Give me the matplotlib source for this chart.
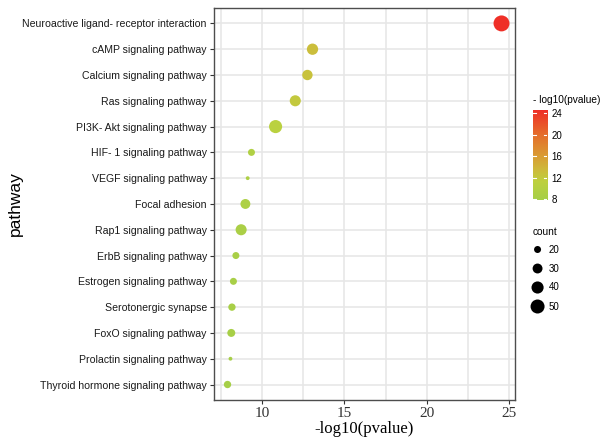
import numpy as np
import matplotlib
matplotlib.use('Agg')
import matplotlib.pyplot as plt
from matplotlib.colors import LinearSegmentedColormap, Normalize
from matplotlib.font_manager import FontProperties

# Data
pathways = [
    "Neuroactive ligand- receptor interaction",
    "cAMP signaling pathway",
    "Calcium signaling pathway",
    "Ras signaling pathway",
    "PI3K- Akt signaling pathway",
    "HIF- 1 signaling pathway",
    "VEGF signaling pathway",
    "Focal adhesion",
    "Rap1 signaling pathway",
    "ErbB signaling pathway",
    "Estrogen signaling pathway",
    "Serotonergic synapse",
    "FoxO signaling pathway",
    "Prolactin signaling pathway",
    "Thyroid hormone signaling pathway",
]
neg_log_p = [24.57, 13.05, 12.74, 12.0, 10.8, 9.33, 9.1, 8.96, 8.7, 8.38, 8.23, 8.14, 8.1, 8.05, 7.87]
counts = [62, 36, 32, 35, 45, 20, 13, 30, 35, 20, 20, 21, 23, 13, 21]

legend_counts = [20, 30, 40, 50]
cbar_ticks = [8, 12, 16, 20, 24]
x_ticks = [10, 15, 20, 25]

sans = ['Liberation Sans', 'DejaVu Sans']
serif = ['Liberation Serif', 'DejaVu Serif']


def size_of(c):
    # area-proportional size scale (diameter in px -> points^2)
    d2 = np.maximum(4.9 * np.asarray(c, dtype=float) - 49, 4)
    return d2 * 0.72 ** 2


cmap = LinearSegmentedColormap.from_list(
    'pv', [(0.0, '#a6cf48'), (0.2, '#bdd13f'), (0.33, '#cdbb3b'),
           (0.5, '#da9a33'), (0.75, '#e6692b'), (1.0, '#ef2f27')])
vmin, vmax = min(neg_log_p), max(neg_log_p)
norm = Normalize(vmin=vmin, vmax=vmax)

fig = plt.figure(figsize=(6.04, 4.41), dpi=100)
ax = fig.add_axes([0.354, 0.093, 0.499, 0.889])

y = np.arange(len(pathways))
ax.scatter(neg_log_p, y, s=size_of(counts), c=neg_log_p, cmap=cmap, norm=norm,
           linewidths=0, zorder=3)

rng = vmax - vmin
ax.set_xlim(vmin - 0.05 * rng, vmax + 0.05 * rng)
ax.set_ylim(len(pathways) - 0.4, -0.6)
ax.set_yticks(y)
ax.set_yticklabels(pathways, family=sans, fontsize=7.6, color='#1a1a1a')
ax.set_xticks(x_ticks)
ax.set_xticklabels([str(t) for t in x_ticks], family=serif, fontsize=11, color='#333333')
ax.set_xticks([7.5, 12.5, 17.5, 22.5], minor=True)
ax.tick_params(axis='x', which='minor', length=0)
ax.tick_params(axis='both', which='major', length=3, width=0.8, color='#333333', pad=2)
ax.grid(True, which='both', color='#e6e6e6', linewidth=1.1, zorder=0)
ax.set_axisbelow(True)
for sp in ax.spines.values():
    sp.set_color('#4d4d4d')
    sp.set_linewidth(1.0)

ax.set_xlabel('-log10(pvalue)', fontproperties=FontProperties(family=serif, size=12), labelpad=1)
ax.set_ylabel('pathway', fontproperties=FontProperties(family=sans, size=12.5))
ax.yaxis.set_label_coords(-0.635, 0.5)

# colour bar legend
cax = fig.add_axes([0.8825, 0.5465, 0.0232, 0.204])
grad = np.linspace(vmin, vmax, 256).reshape(-1, 1)
cax.imshow(grad, aspect='auto', cmap=cmap, norm=norm, origin='lower',
           extent=[0, 1, vmin, vmax])
for t in cbar_ticks:
    cax.plot([0, 0.2], [t, t], color='white', lw=0.8)
    cax.plot([0.8, 1], [t, t], color='white', lw=0.8)
cax.set_xlim(0, 1)
cax.set_ylim(vmin, vmax)
cax.set_xticks([])
cax.yaxis.tick_right()
cax.set_yticks(cbar_ticks)
cax.set_yticklabels([str(t) for t in cbar_ticks], family=sans, fontsize=7)
cax.tick_params(axis='y', length=0, pad=3)
for sp in cax.spines.values():
    sp.set_visible(False)
fig.text(0.8825, 1 - 100 / 441, '- log10(pvalue)', family=sans, fontsize=7.3,
         va='center', ha='left')

# size legend
fig.text(0.8825, 1 - 232 / 441, 'count', family=sans, fontsize=7.3, va='center', ha='left')
lax = fig.add_axes([0.87, 1 - 316 / 441, 0.1, 76 / 441])
lax.scatter([0] * len(legend_counts), range(len(legend_counts)), s=size_of(legend_counts),
            color='black', linewidths=0)
for i, c in enumerate(legend_counts):
    lax.text(0.9, i, str(c), family=sans, fontsize=7, va='center', ha='left')
lax.set_xlim(-1, 4)
lax.set_ylim(len(legend_counts) - 0.5, -0.5)
lax.axis('off')

fig.savefig('out.png', dpi=100)
